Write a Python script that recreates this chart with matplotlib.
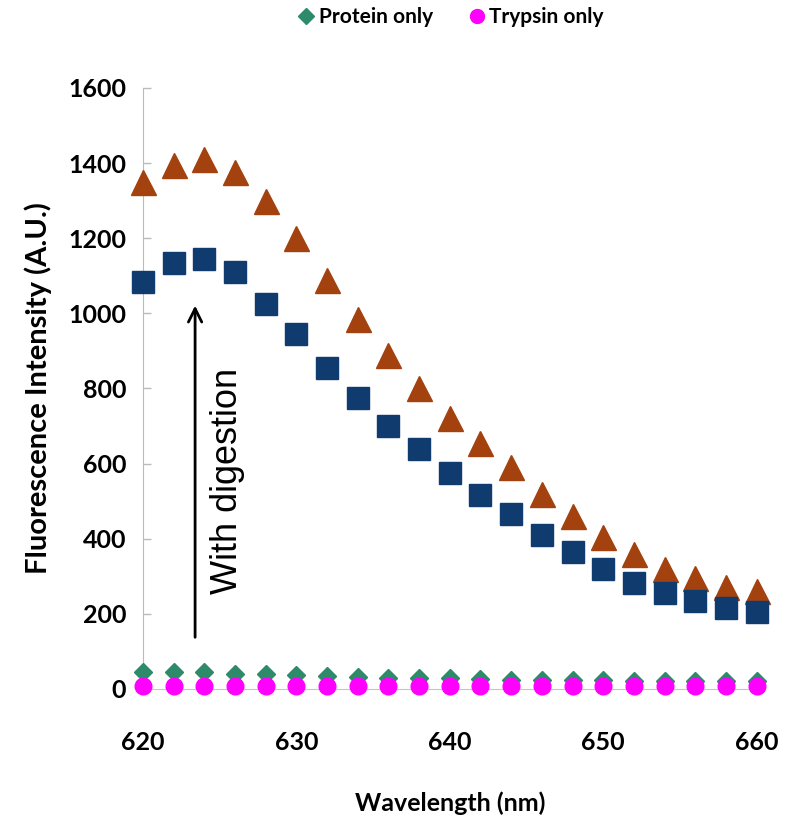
import matplotlib
matplotlib.use("Agg")
import matplotlib.pyplot as plt
from matplotlib.lines import Line2D

# Wavelength (nm)
wavelength = [620, 622, 624, 626, 628, 630, 632, 634, 636, 638, 640,
              642, 644, 646, 648, 650, 652, 654, 656, 658, 660]

# Fluorescence intensity (A.U.)
digest_high = [1350, 1395, 1410, 1375, 1300, 1200, 1090, 985, 890, 800, 720,
               655, 590, 520, 460, 405, 360, 320, 295, 270, 260]
digest_low = [1083, 1135, 1145, 1110, 1025, 945, 855, 775, 700, 640, 575,
              515, 465, 410, 365, 318, 283, 255, 235, 215, 205]
protein_only = [45, 45, 45, 40, 40, 37, 35, 32, 30, 30, 28,
                27, 25, 25, 24, 23, 22, 22, 21, 20, 20]
trypsin_only = [8, 8, 7, 7, 7, 7, 7, 7, 7, 7, 7,
                7, 7, 7, 7, 7, 7, 7, 7, 7, 7]

y_ticks = [0, 200, 400, 600, 800, 1000, 1200, 1400, 1600]
x_ticks = [620, 630, 640, 650, 660]

plt.rcParams['font.family'] = ['Lato', 'DejaVu Sans']

fig = plt.figure(figsize=(7.94, 8.3), dpi=100)
ax = fig.add_axes([0.180, 0.170, 0.773, 0.724])

ax.plot(wavelength, digest_high, linestyle="none", marker="^", ms=18,
        color="#A3420E", clip_on=False, zorder=3)
ax.plot(wavelength, digest_low, linestyle="none", marker="s", ms=16.5,
        color="#0F3B6F", clip_on=False, zorder=3)
ax.plot(wavelength, protein_only, linestyle="none", marker="D", ms=9,
        color="#2E8B6A", clip_on=False, zorder=3)
ax.plot(wavelength, trypsin_only, linestyle="none", marker="o", ms=12,
        color="#FF00FF", clip_on=False, zorder=4)

ax.set_xlim(620, 660)
ax.set_ylim(0, 1600)
ax.set_xticks(x_ticks)
ax.set_yticks(y_ticks)

for side in ["top", "right"]:
    ax.spines[side].set_visible(False)
ax.spines["left"].set_color("#BBBBBB")
ax.spines["bottom"].set_color("#D8B8D8")
ax.tick_params(axis="y", color="#BBBBBB", direction="in", length=6, width=1,
               pad=12, labelsize=18)
ax.tick_params(axis="x", length=0, pad=30, labelsize=18)
for lab in ax.get_xticklabels() + ax.get_yticklabels():
    lab.set_fontweight("bold")

ax.set_ylabel("Fluorescence Intensity (A.U.)", fontsize=21,
              fontweight="bold", labelpad=12)
ax.set_xlabel("Wavelength (nm)", fontsize=18, fontweight="bold",
              labelpad=27)

# arrow and annotation
ax.annotate("", xy=(623.4, 1028), xytext=(623.4, 130),
            arrowprops=dict(arrowstyle="->", color="black", lw=2,
                            mutation_scale=24))
ax.text(625.5, 555, "With digestion", rotation=90, ha="center",
        va="center", fontsize=26, family=["Liberation Sans", "DejaVu Sans"])

handles = [
    Line2D([], [], linestyle="none", marker="D", ms=8, color="#2E8B6A",
           label="Protein only"),
    Line2D([], [], linestyle="none", marker="o", ms=10, color="#FF00FF",
           label="Trypsin only"),
]
fig.legend(handles=handles, loc="center", bbox_to_anchor=(0.565, 0.979),
           ncol=2, frameon=False, handletextpad=0.0, columnspacing=1.5,
           handlelength=1.2, prop={"weight": "bold", "size": 15})

fig.savefig("out.png", dpi=100)
